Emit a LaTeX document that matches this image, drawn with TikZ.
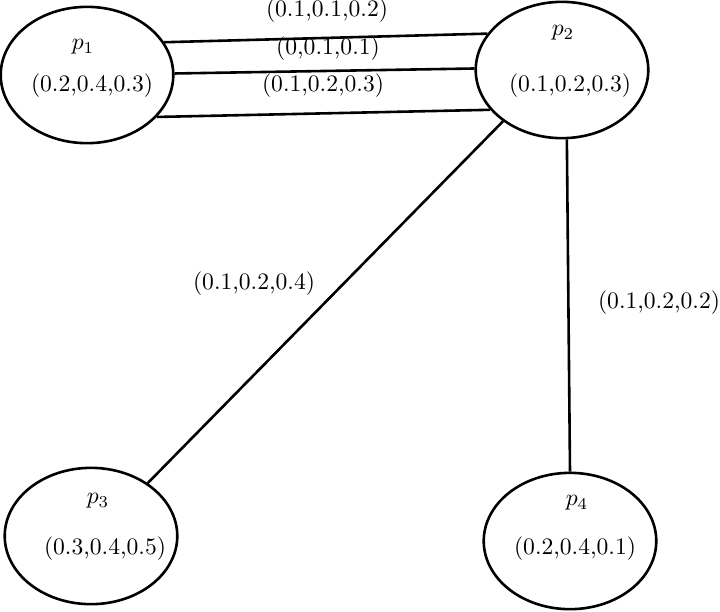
\documentclass[tikz,border=0pt]{standalone}
\usepackage{amsmath,amssymb}
\usepackage{tikz}
\usetikzlibrary{shapes.geometric}

\begin{document}
\begin{tikzpicture}[x=0.0149cm,y=-0.0149cm,
    proc/.style={shape=ellipse, draw, line width=1.1pt, minimum width=2.57cm, minimum height=2.03cm, inner sep=0pt},
    wt/.style={inner sep=0pt},
    link/.style={line width=1.1pt}]
    \useasboundingbox (0,0) rectangle (720,611);
    % processes
    \node[proc] (p1) at (87,75) {};
    \node[proc] (p2) at (562,70) {};
    \node[proc] (p3) at (91,536) {};
    \node[proc] (p4) at (570,541) {};
    \node[wt] (n1) at (83,47) {$p_1$};
    \node[wt] (v1) at (92,86) {(0.2,0.4,0.3)};
    \node[wt] (n2) at (563,33) {$p_2$};
    \node[wt] (v2) at (570,86) {(0.1,0.2,0.3)};
    \node[wt] (n3) at (98,501) {$p_3$};
    \node[wt] (v3) at (105,549) {(0.3,0.4,0.5)};
    \node[wt] (n4) at (577,503) {$p_4$};
    \node[wt] (v4) at (575,549) {(0.2,0.4,0.1)};
    % links
    \draw[link] (p1.23) -- (p2.154);
    \draw[link] (p1.1) -- (p2.179);
    \draw[link] (p1.-31) -- (p2.209);
    \draw[link] (p2.221) -- (p3.43);
    \draw[link] (p2.-86) -- (p4.north);
    \node[wt] (w1) at (327,11) {(0.1,0.1,0.2)};
    \node[wt] (w2) at (328,49) {(0,0.1,0.1)};
    \node[wt] (w3) at (323,86) {(0.1,0.2,0.3)};
    \node[wt] (w4) at (254,284) {(0.1,0.2,0.4)};
    \node[wt] (w5) at (659,303) {(0.1,0.2,0.2)};
\end{tikzpicture}
\end{document}
